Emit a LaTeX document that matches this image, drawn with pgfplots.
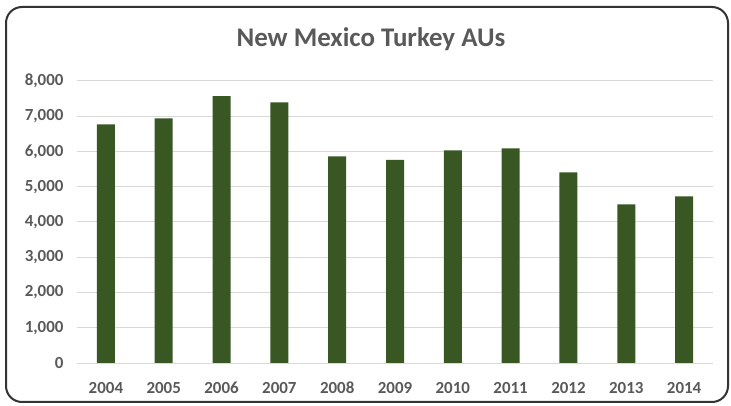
\documentclass[border=0pt]{standalone}
\usepackage{fontspec}
\setmainfont{Carlito}
\usepackage{pgfplots}
\pgfplotsset{compat=1.18}
\definecolor{bargreen}{HTML}{385723}
\definecolor{txtgray}{HTML}{595959}
\definecolor{gridgray}{HTML}{D9D9D9}
\begin{document}
\begin{tikzpicture}
\useasboundingbox (0,0) rectangle (731bp,406bp);
\draw[line width=2bp, draw=black!80, rounded corners=16bp] (6bp,4bp) rectangle (728bp,399bp);
\node[anchor=base, text=txtgray, font=\fontsize{27}{30}\selectfont\bfseries] at (371bp,359bp) {New Mexico Turkey AUs};
\begin{axis}[
  at={(77bp,43bp)}, anchor=south west,
  scale only axis, width=636bp, height=282bp,
  ybar, bar width=18bp,
  xmin=-0.5, xmax=10.5, ymin=0, ymax=8000,
  xtick={0,...,10},
  xticklabels={2004,2005,2006,2007,2008,2009,2010,2011,2012,2013,2014},
  ytick={0,1000,...,8000},
  ymajorgrids, grid style={gridgray, line width=1bp},
  axis line style={draw=none},
  major tick length=0,
  tick label style={font=\fontsize{17}{20}\selectfont\bfseries, text=txtgray},
  /pgf/number format/assume math mode=true,
  /pgf/number format/1000 sep={,},
  scaled y ticks=false,
  yticklabel style={xshift=-10bp},
  xticklabel style={anchor=north, text height=11bp, text depth=0bp, yshift=-16bp},
]
\addplot[fill=bargreen, draw=none] coordinates {
  (0,6770) (1,6940) (2,7570) (3,7390) (4,5860) (5,5760)
  (6,6030) (7,6090) (8,5410) (9,4500) (10,4730)};
\end{axis}
\end{tikzpicture}
\end{document}
